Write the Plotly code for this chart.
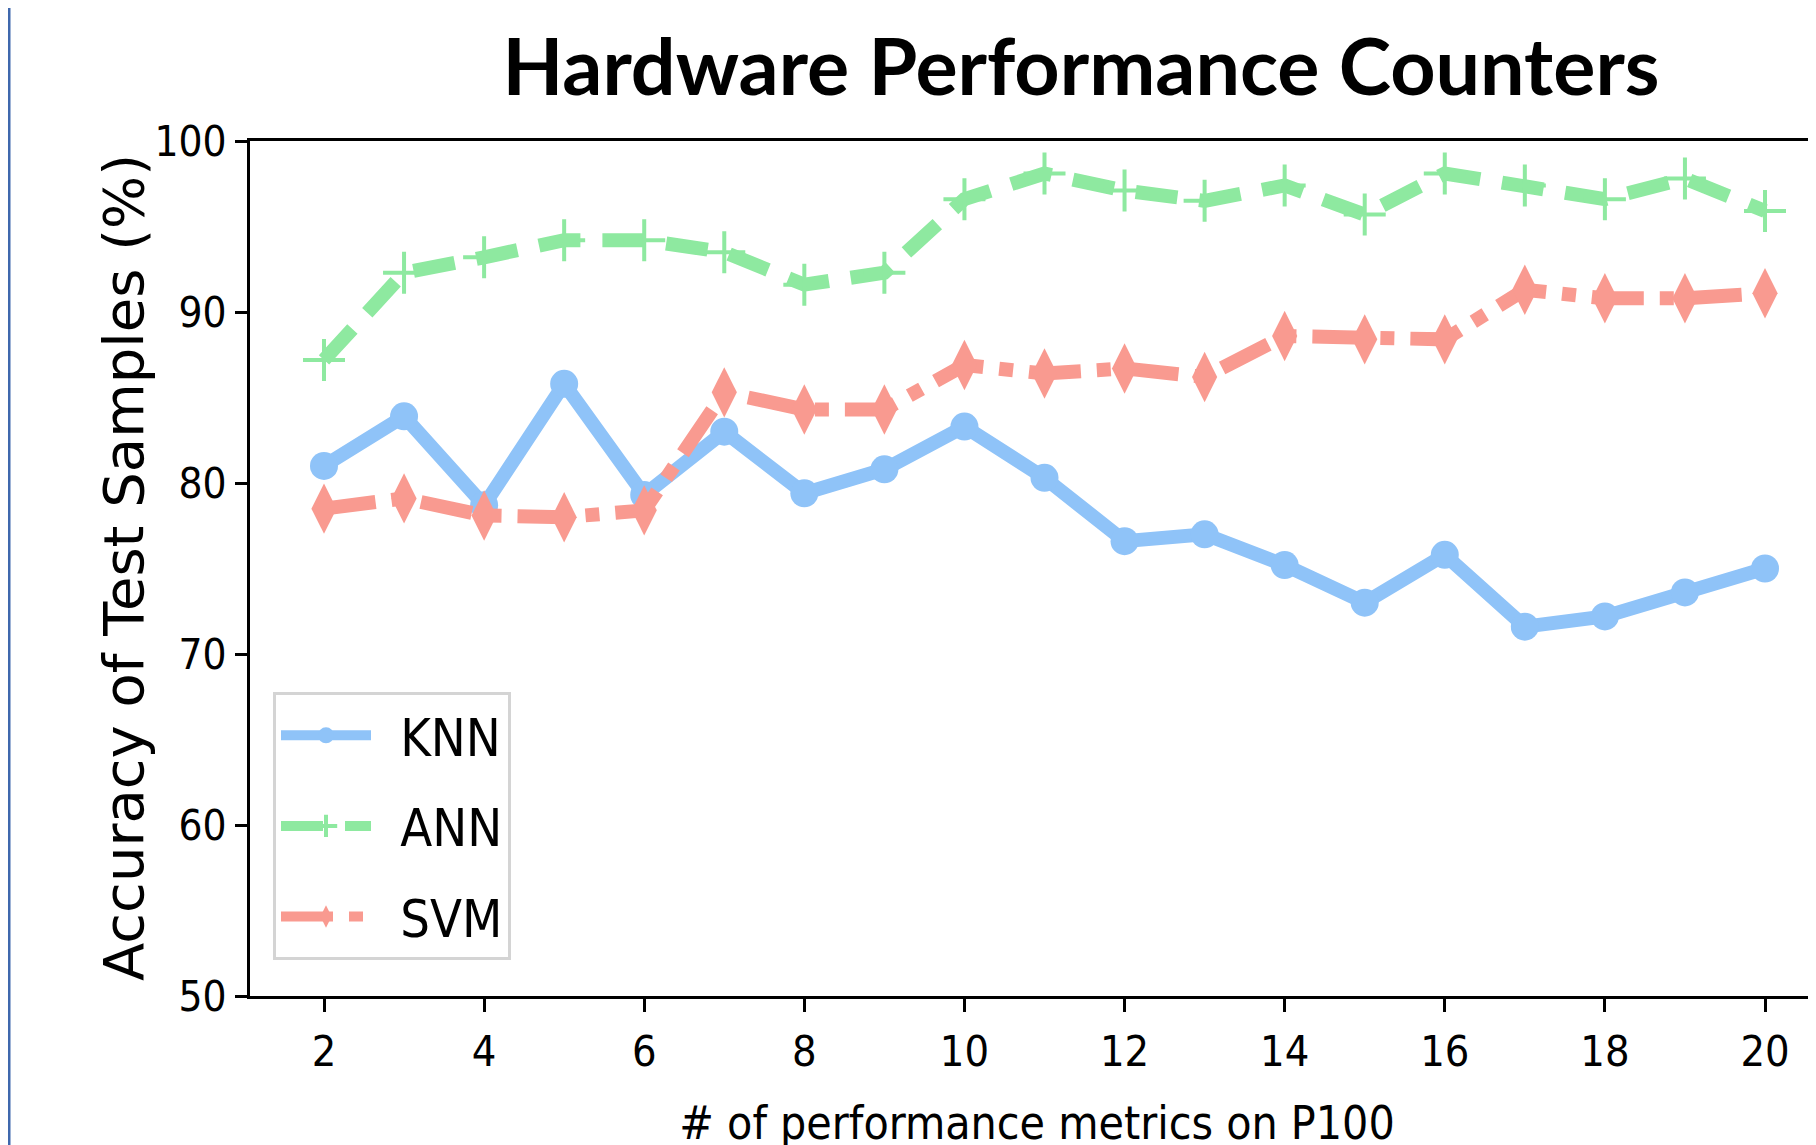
import plotly.graph_objects as go

# ---- data ----
metrics = [2, 3, 4, 5, 6, 7, 8, 9, 10, 11, 12, 13, 14, 15, 16, 17, 18, 19, 20]
knn = [81.0, 83.9, 78.7, 85.8, 79.3, 83.0, 79.4, 80.8, 83.3, 80.3, 76.6, 77.0, 75.2, 73.0, 75.8, 71.6, 72.2, 73.6, 75.0]
ann = [87.2, 92.3, 93.2, 94.2, 94.2, 93.5, 91.6, 92.3, 96.6, 98.1, 97.1, 96.5, 97.4, 95.7, 98.1, 97.4, 96.6, 97.8, 95.9]
svm = [78.5, 79.1, 78.1, 78.0, 78.4, 85.3, 84.3, 84.3, 86.9, 86.4, 86.7, 86.2, 88.6, 88.4, 88.4, 91.3, 90.8, 90.8, 91.1]
x_ticks = [2, 4, 6, 8, 10, 12, 14, 16, 18, 20]
y_ticks = [50, 60, 70, 80, 90, 100]
series_names = ["KNN", "ANN", "SVM"]

title_text = "Hardware Performance Counters"
x_title = "# of performance metrics on P100"
y_title = "Accuracy of Test Samples (%)"

COND = "DejaVu Sans Condensed, Liberation Sans Narrow, DejaVu Sans, sans-serif"
C_KNN = "#8fc3f8"
C_ANN = "#8ee9a0"
C_SVM = "#f99a90"

# figure coordinates (page has an 8px body margin)
W, H = 1816, 1145
L, R, T, B = 242, 0, 133, 157
pw = W - L - R
ph = H - T - B

LEG_PAD = "\u00a0\u2009"

fig = go.Figure()
fig.add_trace(go.Scatter(
    x=metrics, y=knn, name=LEG_PAD + series_names[0], mode="lines+markers", legendgroup="a",
    line=dict(color=C_KNN, width=14),
    marker=dict(symbol="circle", size=28, color=C_KNN),
))
fig.add_trace(go.Scatter(
    x=metrics, y=ann, name=LEG_PAD + series_names[1], mode="lines+markers", legendgroup="b",
    line=dict(color=C_ANN, width=14, dash="42px,22px"),
    marker=dict(symbol="cross-thin", size=30, color=C_ANN,
                line=dict(color=C_ANN, width=4)),
))
fig.add_trace(go.Scatter(
    x=metrics, y=svm, name=LEG_PAD + series_names[2], mode="lines+markers", legendgroup="c",
    line=dict(color=C_SVM, width=14, dash="52px,16px,14px,16px"),
    marker=dict(symbol="diamond-tall", size=36, color=C_SVM),
))

fig.update_layout(
    width=W, height=H,
    margin=dict(l=L, r=R, t=T, b=B, pad=0),
    plot_bgcolor="white", paper_bgcolor="white",
    title=dict(text="<b>" + title_text + "</b>", x=(1073 - L) / pw, xref="paper",
               xanchor="center", y=1 - 59.5 / H, yref="container", yanchor="middle",
               font=dict(family="Lato, Open Sans, sans-serif", size=79, color="black")),
    xaxis=dict(
        range=[1.0757, 20.737], tickvals=x_ticks, ticktext=[str(v) for v in x_ticks],
        showgrid=False, zeroline=False, showline=True, linecolor="black", linewidth=3,
        mirror=True, ticks="outside", ticklen=13, tickwidth=2.5, tickcolor="black",
        ticklabelstandoff=2,
        tickfont=dict(family=COND, size=43, color="black"),
        title=dict(text=x_title, standoff=33, font=dict(family=COND, size=46, color="black")),
    ),
    yaxis=dict(
        range=[50, 100], tickvals=y_ticks, ticktext=[str(v) for v in y_ticks],
        showgrid=False, zeroline=False, showline=True, linecolor="black", linewidth=3,
        ticks="outside", ticklen=12, tickwidth=2.5, tickcolor="black",
        ticklabelstandoff=0,
        tickfont=dict(family=COND, size=42, color="black"),
    ),
    legend=dict(
        x=(265 - L) / pw, y=(988 - 684) / ph, xanchor="left", yanchor="top",
        bgcolor="white", bordercolor="#d4d4d4", borderwidth=3,
        font=dict(family=COND, size=52, color="black"),
        traceorder="grouped", tracegroupgap=20, itemwidth=90,
        itemsizing="trace",
    ),
    showlegend=True,
)

# y-axis title placed as rotated annotation
fig.add_annotation(
    text=y_title, textangle=-90, showarrow=False,
    xref="paper", yref="paper",
    x=(115 - L) / pw, y=(988 - 560) / ph, xanchor="center", yanchor="middle",
    font=dict(family="DejaVu Sans, sans-serif", size=56, color="black"),
)

# left blue border of the slide
fig.add_shape(type="line", xref="paper", yref="paper",
              x0=(1 - L) / pw, x1=(1 - L) / pw, y0=-B / ph, y1=1 + T / ph,
              line=dict(color="#3f68ad", width=3))

fig.write_html("out.html")
